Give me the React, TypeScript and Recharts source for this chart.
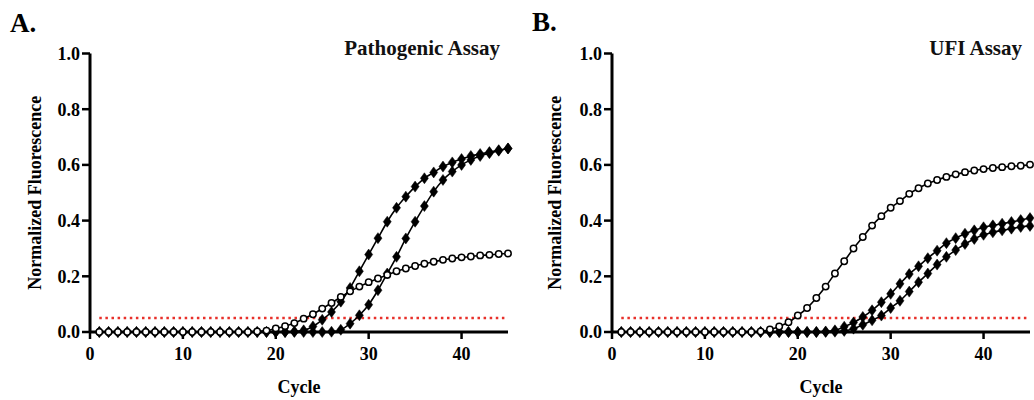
import React from 'react';
import { LineChart, Line, XAxis, YAxis, ReferenceLine } from 'recharts';

const FONT = '"Liberation Serif", "Times New Roman", Times, serif';

const cycles = [1, 2, 3, 4, 5, 6, 7, 8, 9, 10, 11, 12, 13, 14, 15, 16, 17, 18, 19, 20, 21, 22, 23, 24, 25, 26, 27, 28, 29, 30, 31, 32, 33, 34, 35, 36, 37, 38, 39, 40, 41, 42, 43, 44, 45];

const xTicks = [0, 10, 20, 30, 40];
const yTicks = [0, 0.2, 0.4, 0.6, 0.8, 1.0];
const threshold = 0.05;

// Panel A: Pathogenic Assay
const pathOpen = [0, 0, 0, 0, 0, 0, 0, 0, 0, 0, 0, 0, 0, 0, 0, 0, 0, 0.002, 0.005, 0.013, 0.021, 0.032, 0.048, 0.064, 0.084, 0.104, 0.126, 0.146, 0.163, 0.179, 0.192, 0.205, 0.218, 0.228, 0.237, 0.245, 0.252, 0.259, 0.264, 0.268, 0.271, 0.275, 0.277, 0.28, 0.282];
const pathFilled1 = [0, 0, 0, 0, 0, 0, 0, 0, 0, 0, 0, 0, 0, 0, 0, 0, 0, 0, 0, 0, 0, 0.002, 0.006, 0.02, 0.044, 0.072, 0.109, 0.158, 0.218, 0.278, 0.337, 0.396, 0.446, 0.486, 0.522, 0.552, 0.573, 0.594, 0.609, 0.621, 0.632, 0.639, 0.646, 0.653, 0.659];
const pathFilled2 = [0, 0, 0, 0, 0, 0, 0, 0, 0, 0, 0, 0, 0, 0, 0, 0, 0, 0, 0, 0, 0, 0, 0, 0, 0, 0.001, 0.008, 0.03, 0.06, 0.098, 0.15, 0.21, 0.27, 0.336, 0.396, 0.452, 0.504, 0.546, 0.576, 0.6, 0.618, 0.632, 0.642, 0.651, 0.659];

// Panel B: UFI Assay
const ufiOpen = [0, 0, 0, 0, 0, 0, 0, 0, 0, 0, 0, 0, 0, 0, 0, 0.002, 0.009, 0.02, 0.035, 0.059, 0.086, 0.122, 0.163, 0.21, 0.254, 0.3, 0.341, 0.382, 0.416, 0.446, 0.47, 0.496, 0.516, 0.533, 0.546, 0.557, 0.566, 0.574, 0.58, 0.585, 0.589, 0.592, 0.595, 0.597, 0.601];
const ufiFilled1 = [0, 0, 0, 0, 0, 0, 0, 0, 0, 0, 0, 0, 0, 0, 0, 0, 0, 0, 0, 0, 0, 0, 0.002, 0.006, 0.019, 0.034, 0.054, 0.078, 0.107, 0.137, 0.173, 0.208, 0.236, 0.265, 0.292, 0.319, 0.337, 0.353, 0.365, 0.376, 0.383, 0.389, 0.395, 0.402, 0.409];
const ufiFilled2 = [0, 0, 0, 0, 0, 0, 0, 0, 0, 0, 0, 0, 0, 0, 0, 0, 0, 0, 0, 0, 0, 0, 0, 0.001, 0.004, 0.012, 0.026, 0.042, 0.059, 0.086, 0.112, 0.145, 0.179, 0.21, 0.242, 0.27, 0.294, 0.316, 0.334, 0.349, 0.358, 0.365, 0.371, 0.377, 0.381];

const buildRows = (open: number[], f1: number[], f2: number[]) =>
  cycles.map((c, i) => ({ cycle: c, open: open[i], f1: f1[i], f2: f2[i] }));

const pathRows = buildRows(pathOpen, pathFilled1, pathFilled2);
const ufiRows = buildRows(ufiOpen, ufiFilled1, ufiFilled2);

const Diamond = (p: any) => {
  const { cx, cy, index } = p;
  if (cx == null || cy == null) return <g key={`e-${index}`} />;
  return (
    <path
      key={`dm-${index}`}
      d={`M${cx},${cy - 5.5}L${cx + 4},${cy}L${cx},${cy + 5.5}L${cx - 4},${cy}Z`}
      fill="#000"
      stroke="#000"
      strokeWidth={0.5}
    />
  );
};

const tickStyle = { fill: '#000', fontSize: 18, fontWeight: 'bold' as const, fontFamily: FONT, style: { fontFamily: FONT } };

type PanelProps = {
  rows: any[];
  left: number;
  width: number;
  yAxisWidth: number;
  rightMargin: number;
};

const Panel = ({ rows, left, width, yAxisWidth, rightMargin }: PanelProps) => (
  <div style={{ position: 'absolute', left, top: 0, width, height: 400, fontFamily: FONT }}>
    <LineChart
      width={width}
      height={400}
      data={rows}
      margin={{ top: 53.5, right: rightMargin, bottom: 8, left: 0 }}
      style={{ fontFamily: FONT }}
    >
      <XAxis
        dataKey="cycle"
        type="number"
        domain={[0, 45]}
        ticks={xTicks}
        tick={tickStyle}
        tickSize={7}
        tickMargin={8}
        height={60}
        axisLine={{ stroke: '#000', strokeWidth: 3 }}
        tickLine={{ stroke: '#000', strokeWidth: 2.5 }}
        label={{
          content: (props: any) => {
            const vb = props.viewBox || {};
            return (
              <text
                x={vb.x + vb.width / 2}
                y={vb.y + 60.5}
                textAnchor="middle"
                style={{ fontFamily: FONT }}
                fontFamily={FONT}
                fontWeight="bold"
                fontSize={18}
                fill="#000"
              >
                Cycle
              </text>
            );
          },
        }}
      />
      <YAxis
        type="number"
        domain={[0, 1]}
        ticks={yTicks}
        tickFormatter={(v: number) => v.toFixed(1)}
        tick={tickStyle}
        tickSize={8}
        tickMargin={2}
        width={yAxisWidth}
        axisLine={{ stroke: '#000', strokeWidth: 3 }}
        tickLine={{ stroke: '#000', strokeWidth: 2.5 }}
        label={{
          content: (props: any) => {
            const vb = props.viewBox || {};
            const cx = 35;
            const cy = vb.y + vb.height / 2;
            return (
              <text
                x={cx}
                y={cy}
                transform={`rotate(-90 ${cx} ${cy})`}
                textAnchor="middle"
                dominantBaseline="central"
                style={{ fontFamily: FONT }}
                fontFamily={FONT}
                fontWeight="bold"
                fontSize={18}
                fill="#000"
              >
                Normalized Fluorescence
              </text>
            );
          },
        }}
      />
      <ReferenceLine
        segment={[{ x: 1, y: threshold }, { x: 45, y: threshold }]}
        stroke="#e8302a"
        strokeWidth={2.5}
        strokeDasharray="2.5 3.6"
        ifOverflow="visible"
      />
      <Line
        dataKey="f1"
        stroke="#000"
        strokeWidth={1.6}
        type="monotone"
        dot={Diamond}
        activeDot={false}
        isAnimationActive={false}
      />
      <Line
        dataKey="f2"
        stroke="#000"
        strokeWidth={1.6}
        type="monotone"
        dot={Diamond}
        activeDot={false}
        isAnimationActive={false}
      />
      <Line
        dataKey="open"
        stroke="#000"
        strokeWidth={1.6}
        type="monotone"
        dot={{ r: 3.2, fill: '#fff', stroke: '#000', strokeWidth: 1.5 }}
        activeDot={false}
        isAnimationActive={false}
      />
    </LineChart>
  </div>
);

export default function App() {
  return (
    <div style={{ position: 'absolute', left: 0, top: 0, width: 1034, height: 400, background: '#fff', overflow: 'hidden', fontFamily: FONT }}>
      <Panel rows={pathRows} left={0} width={520} yAxisWidth={90} rightMargin={12} />
      <Panel rows={ufiRows} left={520} width={514} yAxisWidth={92} rightMargin={4} />
      <svg
        width={1034}
        height={400}
        style={{ position: 'absolute', left: 0, top: 0, pointerEvents: 'none', fontFamily: FONT }}
      >
        <text x={10} y={32} fontWeight="bold" fontSize={27} fill="#000">A.</text>
        <text x={532} y={31} fontWeight="bold" fontSize={27} fill="#000">B.</text>
        <text x={500} y={55} textAnchor="end" fontWeight="bold" fontSize={21} fill="#111">Pathogenic Assay</text>
        <text x={1022} y={55} textAnchor="end" fontWeight="bold" fontSize={21} fill="#111">UFI Assay</text>
      </svg>
    </div>
  );
}
